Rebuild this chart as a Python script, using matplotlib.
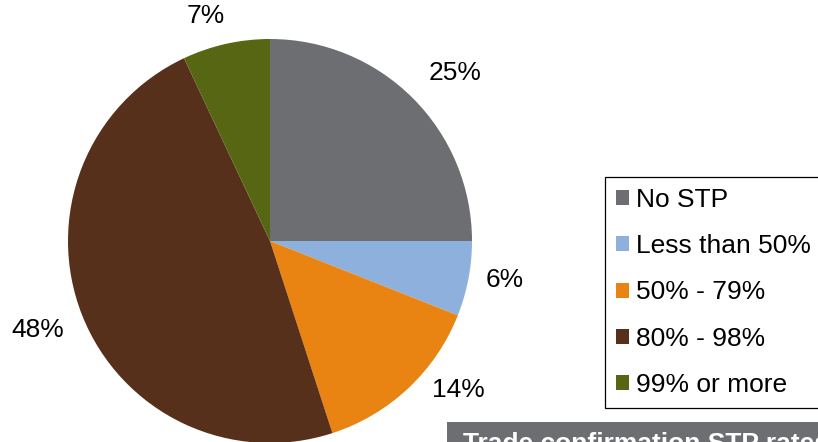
import numpy as np
import matplotlib
matplotlib.use("Agg")
import matplotlib.pyplot as plt
from matplotlib.patches import Rectangle

plt.rcParams["font.family"] = ["Liberation Sans", "DejaVu Sans"]

categories = ["No STP", "Less than 50%", "50% - 79%", "80% - 98%", "99% or more"]
shares = [25, 6, 14, 48, 7]
colors = ["#6D6E71", "#8DB0DC", "#E98311", "#56301A", "#566612"]

# label nudges: (extra degrees from wedge middle, distance in radii)
label_place = [(-2.8, 1.236), (1.4, 1.18), (8.4, 1.19), (-0.6, 1.23), (3.4, 1.16)]

W, H = 818, 442
fig = plt.figure(figsize=(W / 100, H / 100), dpi=100)

cx, cy, r = 270, 241, 202
ax = fig.add_axes([(cx - r) / W, (H - cy - r) / H, 2 * r / W, 2 * r / H])
wedges, _ = ax.pie(shares, colors=colors, startangle=90, counterclock=False,
                   radius=1.0, wedgeprops={"linewidth": 0})
ax.set_xlim(-1, 1)
ax.set_ylim(-1, 1)
ax.set_aspect("equal")
ax.axis("off")

for w, v, (shift, dist) in zip(wedges, shares, label_place):
    ang = np.deg2rad((w.theta1 + w.theta2) / 2 + shift)
    ax.text(dist * np.cos(ang), dist * np.sin(ang), f"{v}%", ha="center", va="center",
            fontsize=19, color="black", clip_on=False)

leg = fig.legend(wedges, categories, loc="upper left",
                 bbox_to_anchor=(605 / W, 1 - 177 / H), fontsize=19,
                 frameon=True, fancybox=False, edgecolor="black", framealpha=1,
                 handlelength=0.5, handleheight=0.5, handletextpad=0.25,
                 labelspacing=0.84, borderpad=0.42, borderaxespad=0)
leg.get_frame().set_linewidth(0.9)

# caption strip along the bottom edge, running off the canvas
fig.patches.append(Rectangle((447 / W, 0), 1, (H - 422) / H, transform=fig.transFigure,
                             facecolor="#6D6E71", edgecolor="none"))
fig.text(463 / W, 1 - 451 / H, "Trade confirmation STP rates", color="white",
         fontsize=19, fontweight="bold", ha="left", va="baseline")

fig.savefig("out.png", dpi=100)
